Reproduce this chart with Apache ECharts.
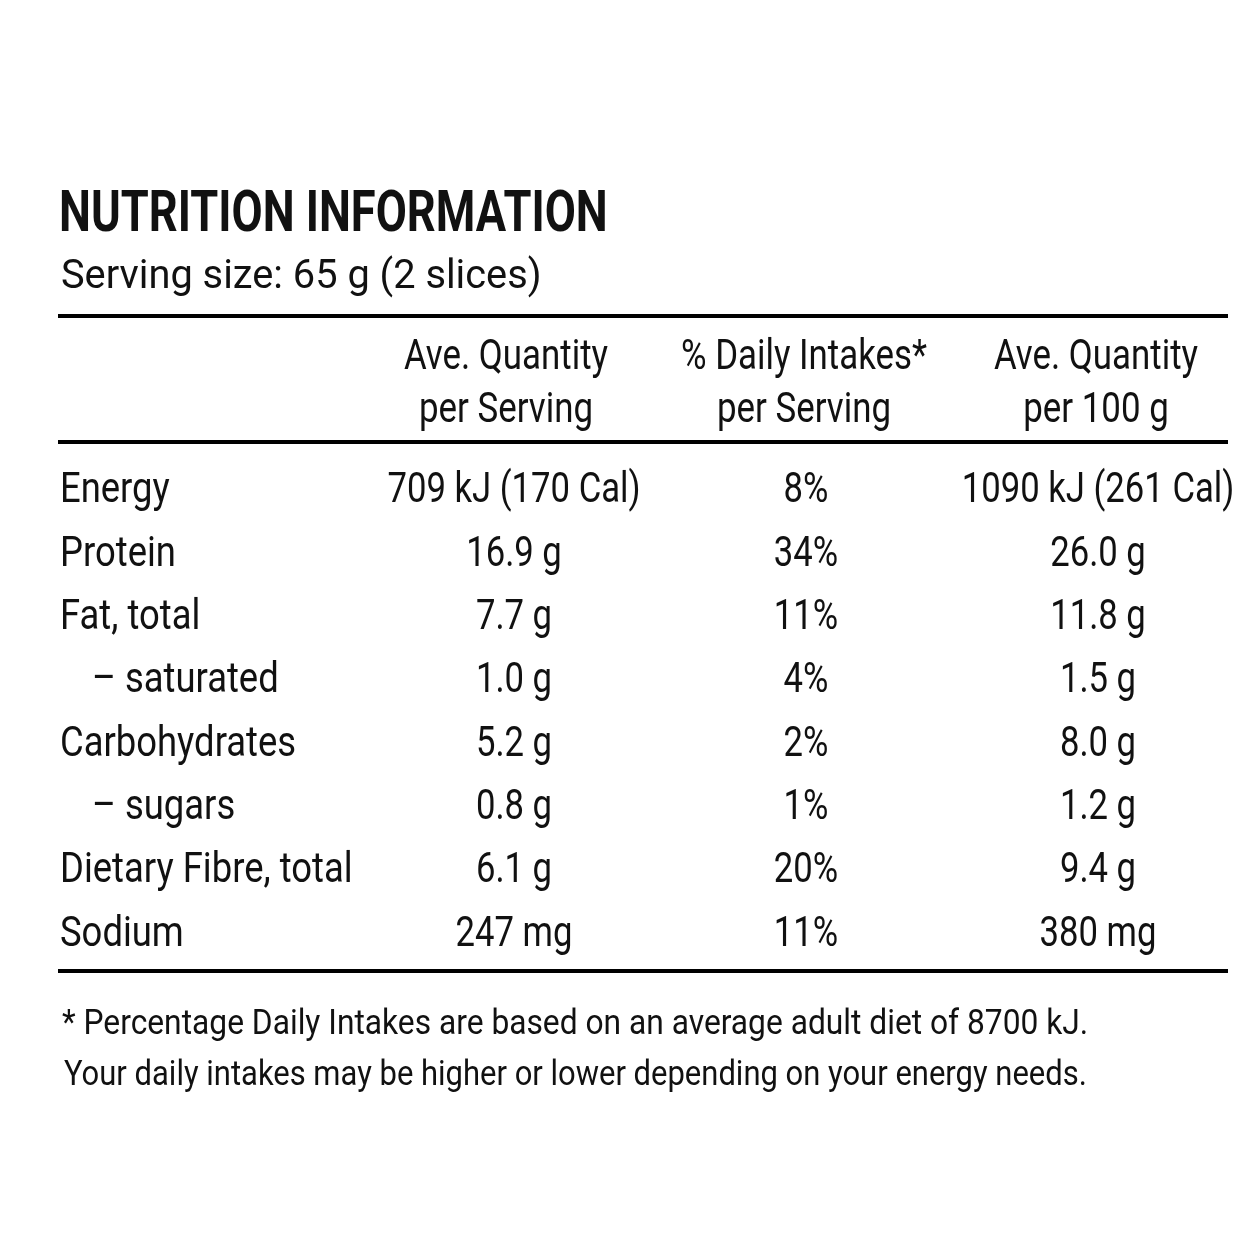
<!DOCTYPE html>
<html>
<head>
<meta charset="utf-8">
<script src="https://cdn.jsdelivr.net/npm/echarts@6/dist/echarts.min.js"></script>
<style>
  html, body { margin: 0; padding: 0; background: #fff; }
  #chart { width: 1254px; height: 1254px; }
</style>
</head>
<body>
<div id="chart"></div>
<script>
// table content
const nutrients = ['Energy', 'Protein', 'Fat, total', '– saturated', 'Carbohydrates', '– sugars', 'Dietary Fibre, total', 'Sodium'];
const columns = ['', 'Ave. Quantity\nper Serving', '% Daily Intakes*\nper Serving', 'Ave. Quantity\nper 100 g'];
const perServing = ['709 kJ (170 Cal)', '16.9 g', '7.7 g', '1.0 g', '5.2 g', '0.8 g', '6.1 g', '247 mg'];
const dailyIntake = ['8%', '34%', '11%', '4%', '2%', '1%', '20%', '11%'];
const per100g = ['1090 kJ (261 Cal)', '26.0 g', '11.8 g', '1.5 g', '8.0 g', '1.2 g', '9.4 g', '380 mg'];
const titleText = 'NUTRITION INFORMATION';
const servingText = 'Serving size: 65 g (2 slices)';
const footnotes = [
    '* Percentage Daily Intakes are based on an average adult diet of 8700 kJ.',
    'Your daily intakes may be higher or lower depending on your energy needs.'
];

const FONT = 'Roboto, "DejaVu Sans Condensed", sans-serif';
const INK = '#111';
const BODY_SIZE = 42;
const NAME_SCALE = 0.867;
const VALUE_SCALE = 0.825;
const HEAD_SCALE = 0.83;

let chartDom = document.getElementById('chart');
let myChart = echarts.init(chartDom, null, { renderer: 'canvas' });

// one cell per [column, row]
let cells = [];
for (let i = 0; i < nutrients.length; i++) {
    cells.push([0, i, nutrients[i]]);
    cells.push([1, i, perServing[i]]);
    cells.push([2, i, dailyIntake[i]]);
    cells.push([3, i, per100g[i]]);
}

function textEl(x, y, text, align, size, scale, weight, lineHeight) {
    return {
        type: 'text',
        x: x,
        y: y,
        scaleX: scale,
        style: {
            text: text,
            fill: INK,
            fontSize: size,
            fontFamily: FONT,
            fontWeight: weight || 'normal',
            lineHeight: lineHeight || size,
            align: align,
            verticalAlign: 'middle'
        }
    };
}

function renderCell(params, api) {
    let col = api.value(0);
    let row = api.value(1);
    let text = cells[params.dataIndex][2];
    let p = api.coord([col, row]);
    let band = api.size([1, 1]);
    if (col === 0) {
        let x = p[0] - band[0] / 2 - 14;
        if (text.charAt(0) === '–') x += 32;
        return textEl(x, p[1], text, 'left', BODY_SIZE, NAME_SCALE);
    }
    return textEl(p[0] + 2, p[1], text, 'center', BODY_SIZE, VALUE_SCALE);
}

function renderHeader(params, api) {
    let col = api.value(0);
    let p = api.coord([col, 0]);
    let shift = col === 1 ? -6 : 0;
    return textEl(p[0] + shift, p[1] - 107, columns[col], 'center', BODY_SIZE, HEAD_SCALE, 'normal', 53);
}

function rule(y) {
    return {
        type: 'line',
        shape: { x1: 58, y1: y, x2: 1228, y2: y },
        style: { stroke: '#000', lineWidth: 4 }
    };
}

let option = {
    backgroundColor: '#fff',
    animation: false,
    grid: { left: 74, right: 12, top: 460, bottom: 287 },
    xAxis: {
        type: 'category',
        data: columns,
        show: false
    },
    yAxis: {
        type: 'category',
        inverse: true,
        data: nutrients,
        show: false
    },
    series: [
        {
            type: 'custom',
            coordinateSystem: 'cartesian2d',
            encode: { x: 0, y: 1 },
            data: [[1, 0], [2, 0], [3, 0]],
            renderItem: renderHeader
        },
        {
            type: 'custom',
            coordinateSystem: 'cartesian2d',
            encode: { x: 0, y: 1 },
            data: cells.map(function (c) { return [c[0], c[1]]; }),
            renderItem: renderCell
        }
    ],
    graphic: [
        rule(316),
        rule(442),
        rule(971),
        textEl(59, 217, titleText, 'left', 57, 0.793, 'bold'),
        textEl(61, 278, servingText, 'left', 41, 0.97),
        textEl(62, 1025, footnotes[0], 'left', 35, 0.907),
        textEl(64, 1076, footnotes[1], 'left', 35, 0.885)
    ]
};

myChart.setOption(option);

window.addEventListener('resize', function () {
    myChart.resize();
});
</script>
</body>
</html>
